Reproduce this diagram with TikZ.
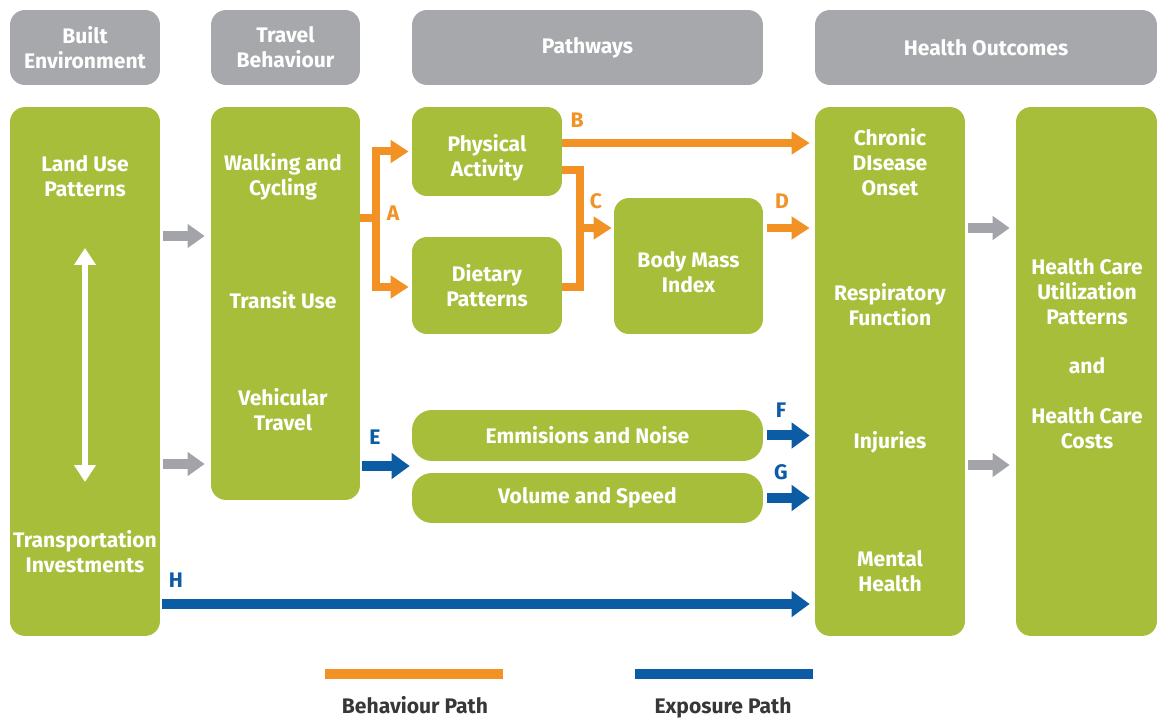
\documentclass[tikz,border=0pt]{standalone}
\usepackage{fontspec}
\setmainfont{Fira Sans}
\usetikzlibrary{arrows.meta,positioning}

\definecolor{boxgreen}{RGB}{166,190,58}
\definecolor{headgray}{RGB}{167,168,171}
\definecolor{arrowgray}{RGB}{163,164,170}
\definecolor{behav}{RGB}{243,146,36}
\definecolor{expo}{RGB}{12,91,165}
\definecolor{legtext}{RGB}{55,55,55}

\tikzset{
  box/.style={fill=boxgreen, rounded corners=0.3cm, inner sep=0pt, text=white,
    font=\bfseries\fontsize{12}{14.2}\selectfont, align=center},
  head/.style={box, fill=headgray},
  lbl/.style={text=white, font=\bfseries\fontsize{12}{14.2}\selectfont, align=center},
  tag/.style={font=\bfseries\fontsize{12}{14}\selectfont},
  legend/.style={text=legtext, font=\bfseries\fontsize{12}{14}\selectfont, anchor=base},
  orline/.style={draw=behav, line width=0.16cm},
  orarrow/.style={orline, -{Triangle[length=0.36cm,width=0.44cm]}},
  blarrow/.style={draw=expo, line width=0.2cm, -{Triangle[length=0.36cm,width=0.5cm]}},
  grarrow/.style={draw=arrowgray, line width=0.2cm, -{Triangle[length=0.34cm,width=0.46cm]},
    shorten <=0.06cm, shorten >=0.12cm}
}

\begin{document}
\begin{tikzpicture}[x=0.02cm, y=-0.02cm]
\useasboundingbox (0,0) rectangle (1167,719);

% column headers
\node[head, minimum width=3cm, minimum height=1.5cm] (hbe) at (85,47.5) {Built\\Environment};
\node[head, minimum width=2.98cm, minimum height=1.5cm] (htb) at (285.5,47.5) {Travel\\Behaviour};
\node[head, minimum width=7.02cm, minimum height=1.5cm] (hpw) at (587.5,47.5) {Pathways};
\node[head, minimum width=6.84cm, minimum height=1.5cm] (hho) at (986,47.5) {Health Outcomes};

% green boxes
\node[box, minimum width=3cm, minimum height=10.58cm] (be) at (85,371.5) {};
\node[box, minimum width=2.98cm, minimum height=7.86cm] (tb) at (285.5,303.5) {};
\node[box, minimum width=3cm, minimum height=1.78cm,
  label={[lbl, yshift=-0.12cm]center:Physical\\Activity}] (pa) at (487,151.5) {};
\node[box, minimum width=3cm, minimum height=1.94cm] (dp) at (487,285.5) {Dietary\\Patterns};
\node[box, minimum width=2.98cm, minimum height=2.72cm,
  label={[lbl, yshift=-0.12cm]center:Body Mass\\Index}] (bmi) at (688.5,266) {};
\node[box, rounded corners=0.4cm, minimum width=7.02cm, minimum height=1.02cm] (en) at (587.5,435.5) {Emmisions and Noise};
\node[box, rounded corners=0.4cm, minimum width=7.02cm, minimum height=1.0cm] (vs) at (587.5,498) {Volume and Speed};
\node[box, minimum width=3cm, minimum height=10.58cm] (ho) at (890,371.5) {};
\node[box, minimum width=2.82cm, minimum height=10.58cm] (hc) at (1086.5,371.5) {};

% texts inside the tall boxes
\node[lbl] (lu) at (85,176) {Land Use\\Patterns};
\node[lbl] (ti) at (85,552) {Transportation\\Investments};
\node[lbl] (wc) at (283,177) {Walking and\\Cycling};
\node[lbl] (tu) at (283,300) {Transit Use};
\node[lbl] (vt) at (283,410) {Vehicular\\Travel};
\node[lbl] (cd) at (890,162) {Chronic\\DIsease\\Onset};
\node[lbl] (rf) at (890,305) {Respiratory\\Function};
\node[lbl] (in) at (890,442) {Injuries};
\node[lbl] (mh) at (890,571) {Mental\\Health};
\node[lbl] (hcu) at (1087,353.5) {Health Care\\Utilization\\Patterns\\[14pt]and\\[14pt]Health Care\\Costs};

% land use <-> transportation
\coordinate (lutop) at (85,248);
\coordinate (lubot) at (85,482);
\draw[white, line width=0.12cm, {Triangle[length=0.34cm,width=0.42cm]}-{Triangle[length=0.34cm,width=0.42cm]}] (lutop) -- (lubot);

% gray arrows between columns
\draw[grarrow] (be.east |- 0,236) -- (tb.west |- 0,236);
\draw[grarrow] (be.east |- 0,464) -- (tb.west |- 0,464);
\draw[grarrow] (ho.east |- 0,228) -- (hc.west |- 0,228);
\draw[grarrow] (ho.east |- 0,465) -- (hc.west |- 0,465);

% behaviour paths
\coordinate (a1) at (376,218);
\draw[orline] (tb.east |- a1) -- (a1);
\draw[orarrow, shorten >=0.06cm] (a1) |- (pa.west);
\draw[orarrow, shorten >=0.06cm] (a1) |- (dp.west |- 0,287);
\node[tag, text=behav] (ta) at (393,213) {A};

\draw[orarrow, shorten >=0.1cm] (pa.east |- 0,143) -- (ho.west |- 0,143);
\node[tag, text=behav] (tbb) at (577,120) {B};

\coordinate (c1) at (580,228);
\draw[orline] (pa.east |- 0,170) -| (c1) |- (dp.east |- 0,287);
\draw[orarrow, shorten >=0.04cm] (c1) -- (bmi.west |- c1);
\node[tag, text=behav] (tc) at (596,201) {C};

\draw[orarrow, shorten <=0.08cm, shorten >=0.1cm] (bmi.east |- 0,228) -- (ho.west |- 0,228);
\node[tag, text=behav] (td) at (782,201) {D};

% exposure paths
\draw[blarrow, shorten <=0.04cm, shorten >=0.04cm] (tb.east |- 0,466) -- (en.west |- 0,466);
\node[tag, text=expo] (te) at (375,437) {E};
\draw[blarrow, shorten <=0.08cm, shorten >=0.1cm] (en.east) -- (ho.west |- en.east);
\node[tag, text=expo] (tf) at (781,410) {F};
\draw[blarrow, shorten <=0.08cm, shorten >=0.1cm] (vs.east) -- (ho.west |- vs.east);
\node[tag, text=expo] (tg) at (781,472) {G};
\draw[blarrow, shorten <=0.04cm, shorten >=0.1cm] (be.east |- 0,604) -- (ho.west |- 0,604);
\node[tag, text=expo] (th) at (176,580) {H};

% legend
\node[legend] (bp) at (415,713) {Behaviour Path};
\node[legend] (ep) at (723,713) {Exposure Path};
\coordinate (bl1) at (325,674);
\coordinate (bl2) at (503,674);
\coordinate (el1) at (635,674);
\coordinate (el2) at (813,674);
\draw[draw=behav, line width=0.2cm] (bl1) -- (bl2);
\draw[draw=expo, line width=0.2cm] (el1) -- (el2);

\end{tikzpicture}
\end{document}
